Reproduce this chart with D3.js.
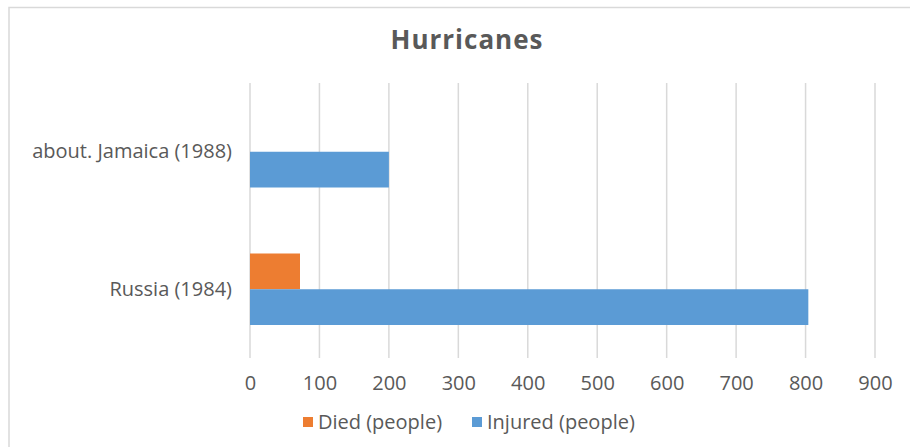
<!DOCTYPE html>
<html>
<head>
<meta charset="utf-8">
<script src="https://cdn.jsdelivr.net/npm/d3@7"></script>
<style>
  body { margin: 0; background: #fff; }
  svg { display: block; font-family: "Open Sans", sans-serif; }
</style>
</head>
<body>
<div id="chart"></div>
<script>
// Hurricanes - horizontal grouped bar chart

const categories = ["about. Jamaica (1988)", "Russia (1984)"];
const seriesNames = ["Died (people)", "Injured (people)"];
const died = [0, 72];
const injured = [200, 804];
const xTicks = [0, 100, 200, 300, 400, 500, 600, 700, 800, 900];
const colors = ["#ed7d31", "#5b9bd5"];

const W = 910, H = 447;
const plot = {left: 250, right: 875, top: 83, bottom: 358};
const textColor = "#595959";

const svg = d3.select("#chart")
    .append("svg")
    .attr("width", W)
    .attr("height", H);

// Chart frame
svg.append("rect")
    .attr("x", 9)
    .attr("y", 7.5)
    .attr("width", W + 10)
    .attr("height", H + 10)
    .attr("fill", "#fff")
    .attr("stroke", "#d9d9d9")
    .attr("stroke-width", 1.5);

// Title
svg.append("text")
    .attr("x", 467)
    .attr("y", 49)
    .attr("text-anchor", "middle")
    .attr("font-size", 26)
    .attr("font-weight", "bold")
    .attr("letter-spacing", 1)
    .attr("fill", textColor)
    .text("Hurricanes");

// Scales
const x = d3.scaleLinear()
    .domain([0, 900])
    .range([plot.left, plot.right]);

const y = d3.scaleBand()
    .domain(categories)
    .range([plot.top, plot.bottom])
    .paddingInner(0.48)
    .paddingOuter(0.24);

const ySub = d3.scaleBand()
    .domain(seriesNames)
    .range([0, y.bandwidth()]);

// Gridlines
svg.append("g")
    .selectAll("line")
    .data(xTicks)
    .join("line")
    .attr("x1", d => x(d))
    .attr("x2", d => x(d))
    .attr("y1", plot.top)
    .attr("y2", plot.bottom)
    .attr("stroke", "#d9d9d9")
    .attr("stroke-width", 1.5);

// Bars
const rows = categories.map((c, i) => ({cat: c, values: [died[i], injured[i]]}));

const groups = svg.append("g")
    .selectAll("g")
    .data(rows)
    .join("g")
    .attr("transform", d => `translate(0,${y(d.cat)})`);

groups.selectAll("rect")
    .data(d => d.values.map((v, j) => ({name: seriesNames[j], value: v, color: colors[j]})))
    .join("rect")
    .attr("x", x(0))
    .attr("y", d => ySub(d.name))
    .attr("width", d => x(d.value) - x(0))
    .attr("height", ySub.bandwidth())
    .attr("fill", d => d.color);

// Y axis labels
const yAxis = svg.append("g")
    .attr("transform", `translate(${plot.left},0)`)
    .call(d3.axisLeft(y).tickSize(0).tickPadding(18));
yAxis.select(".domain").remove();
yAxis.selectAll("text")
    .attr("font-family", "Open Sans, sans-serif")
    .attr("font-size", 20)
    .attr("fill", textColor);

// X axis labels
const xAxis = svg.append("g")
    .attr("transform", `translate(0,${plot.bottom})`)
    .call(d3.axisBottom(x).tickValues(xTicks).tickSize(0).tickPadding(18));
xAxis.select(".domain").remove();
xAxis.selectAll("text")
    .attr("font-family", "Open Sans, sans-serif")
    .attr("font-size", 20)
    .attr("fill", textColor);

// Legend
const legendX = [303, 472];
const legend = svg.append("g")
    .selectAll("g")
    .data(seriesNames)
    .join("g")
    .attr("transform", (d, i) => `translate(${legendX[i]},422)`);

legend.append("rect")
    .attr("x", 0)
    .attr("y", -5)
    .attr("width", 10)
    .attr("height", 10)
    .attr("fill", (d, i) => colors[i]);

legend.append("text")
    .attr("x", 15)
    .attr("y", 0)
    .attr("dy", "0.35em")
    .attr("font-size", 20)
    .attr("fill", textColor)
    .text(d => d);
</script>
</body>
</html>
